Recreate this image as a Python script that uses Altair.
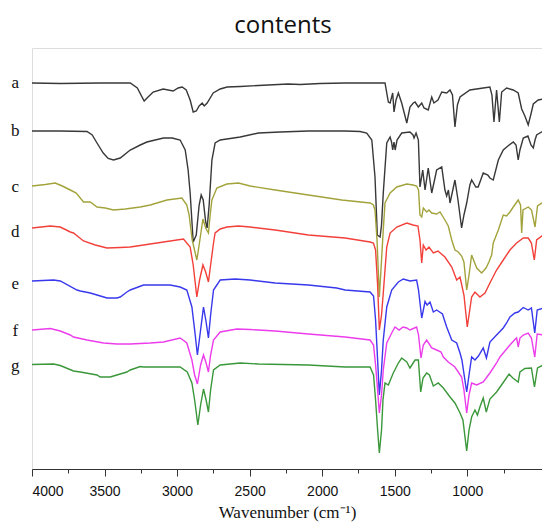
import altair as alt
import pandas as pd

# ---- series data: wavenumber (cm-1) and offset transmittance (a.u.) ----
A_WN = [4000, 3805, 3530, 3323, 3274, 3227, 3200, 3165, 3096, 3027, 2993, 2965, 2937, 2910, 2889, 2868,
        2848, 2827, 2813, 2793, 2751, 2703, 2655, 2565, 2440, 2235, 2150, 2015, 1842, 1670, 1567, 1544,
        1532, 1514, 1505, 1491, 1475, 1452, 1417, 1395, 1372, 1360, 1337, 1314, 1298, 1269, 1245, 1230,
        1202, 1176, 1142, 1119, 1102, 1085, 1068, 1050, 982, 890, 844, 830, 816, 798, 779, 763, 729,
        683, 649, 625, 603, 580, 561, 545, 511, 477, 458, 430]
A_T = [386, 385.5, 386, 386, 381, 368, 372, 377, 380, 378, 381, 382, 379, 369, 357, 358,
       363, 366, 363, 366, 376, 380, 382, 382.5, 383.5, 385, 384.5, 385.5, 386, 386, 386, 367,
       366, 376, 357, 369, 376, 366, 346, 362, 366, 367, 362, 366, 361, 359, 372, 366,
       369, 377, 376, 379, 374, 342, 364, 372, 379, 381, 382, 374, 347, 379, 347, 377, 381,
       379, 376, 360, 353, 344, 355, 365, 369, 370, 368, 366]

B_WN = [4000, 3805, 3621, 3585, 3552, 3509, 3475, 3438, 3392, 3323, 3254, 3208, 3094, 3034, 2979, 2944,
        2924, 2910, 2889, 2868, 2848, 2834, 2820, 2803, 2793, 2779, 2760, 2738, 2703, 2657, 2565, 2439,
        2290, 2095, 1842, 1739, 1693, 1658, 1636, 1620, 1601, 1591, 1579, 1555, 1532, 1522, 1514, 1505,
        1497, 1484, 1452, 1395, 1374, 1367, 1353, 1337, 1326, 1307, 1291, 1269, 1245, 1211, 1176, 1154,
        1142, 1130, 1119, 1085, 1064, 1039, 1023, 1004, 982, 970, 941, 925, 890, 858, 844, 821, 786,
        752, 720, 683, 664, 649, 637, 614, 582, 561, 545, 533, 522, 477, 430]
B_T = [338, 338, 337.5, 334, 326, 316, 310.5, 309, 311, 319, 324, 327, 331, 331, 329, 319,
       299, 276, 227, 234, 264, 274, 269, 247, 241, 264, 309, 326, 329, 330, 332, 336,
       337, 338, 338, 337.5, 336, 329, 292, 234, 232, 244, 276, 326, 332, 327, 319, 327,
       319, 329, 336, 337, 334, 331, 336, 329, 282, 299, 279, 301, 276, 299, 302, 279,
       273, 279, 266, 289, 269, 241, 254, 266, 284, 289, 282, 282, 296, 294, 291, 289, 309,
       319, 323, 327, 324, 309, 319, 331, 333, 324, 321, 329, 334, 338, 338]

C_WN = [4000, 3908, 3840, 3791, 3736, 3695, 3645, 3598, 3552, 3495, 3438, 3357, 3254, 3185, 3070, 2967,
        2933, 2917, 2896, 2864, 2848, 2822, 2803, 2784, 2772, 2760, 2726, 2657, 2577, 2497, 2324, 2095,
        1865, 1670, 1647, 1636, 1622, 1606, 1591, 1579, 1567, 1532, 1486, 1417, 1374, 1349, 1336, 1326,
        1314, 1303, 1280, 1264, 1245, 1211, 1188, 1154, 1131, 1107, 1085, 1062, 1039, 1023, 1004, 988,
        970, 935, 901, 871, 851, 832, 821, 786, 752, 729, 706, 683, 649, 633, 625, 616, 580, 557, 533,
        516, 477, 453, 430]
C_T = [283, 284.5, 286, 283, 279, 276, 267, 267, 262, 261, 259, 260, 262, 264, 269, 271,
       264, 254, 229, 209, 224, 250, 241, 236, 254, 269, 281, 285, 286, 283, 279, 274,
       269, 266, 264, 259, 229, 172, 209, 239, 266, 276, 282, 285, 284, 283, 279, 254,
       252, 261, 257, 259, 256, 255, 257, 249, 243, 229, 219, 217, 213, 207, 179, 194,
       214, 201, 196, 201, 207, 214, 226, 239, 254, 253, 257, 262, 269, 264, 236, 259, 262, 259, 242,
       263, 267, 273, 282]

D_WN = [4000, 3874, 3805, 3736, 3714, 3645, 3564, 3483, 3392, 3323, 3185, 3094, 2956, 2910, 2889, 2864,
        2845, 2822, 2803, 2784, 2769, 2749, 2738, 2703, 2657, 2577, 2497, 2324, 2095, 1842, 1670, 1647,
        1632, 1618, 1606, 1591, 1579, 1567, 1555, 1532, 1486, 1417, 1374, 1340, 1326, 1314, 1303, 1284,
        1264, 1234, 1202, 1154, 1107, 1073, 1050, 1023, 1000, 970, 947, 913, 878, 844, 798, 752, 706,
        660, 614, 580, 558, 538, 522, 477, 430]
D_T = [241, 243, 242, 237, 236, 228, 224, 221, 221.5, 222, 225, 227, 230, 222, 204, 172,
       189, 204, 197, 187, 204, 226, 236, 240, 242, 243, 242, 239, 234, 231, 227, 226,
       219, 184, 139, 154, 176, 199, 222, 236, 242, 246, 244, 243, 229, 206, 224, 219,
       222, 216, 218, 212, 202, 189, 192, 174, 142, 172, 177, 172, 176, 186, 199, 209, 219,
       226, 231, 231, 226, 209, 229, 234, 233]

E_WN = [4000, 3851, 3805, 3690, 3667, 3598, 3552, 3483, 3415, 3392, 3346, 3323, 3231, 3163, 3048, 2979,
        2933, 2898, 2879, 2860, 2838, 2818, 2800, 2784, 2769, 2749, 2703, 2600, 2497, 2324, 2095, 1900,
        1842, 1670, 1646, 1632, 1618, 1606, 1591, 1579, 1555, 1521, 1475, 1441, 1395, 1349, 1336, 1314,
        1291, 1277, 1257, 1234, 1211, 1171, 1142, 1107, 1073, 1050, 1037, 1004, 988, 970, 947, 923, 890,
        868, 844, 798, 752, 729, 706, 672, 649, 614, 580, 558, 535, 518, 477, 430]
E_T = [188, 189, 188, 179, 178, 176, 174, 171, 171, 172, 177, 179, 184, 184, 184, 182,
       179, 162, 139, 114, 139, 162, 147, 131, 154, 179, 189, 190, 189, 186, 184, 181,
       179, 177, 173, 149, 109, 74, 99, 129, 162, 179, 187, 190, 188, 189, 179, 151,
       167.5, 164, 167, 157, 159, 155, 142, 129, 126, 116, 109, 77, 94, 112, 109, 113, 121,
       111, 127, 134, 141, 146, 152, 156, 157, 161.5, 159, 161, 136, 159, 161, 161.5]

F_WN = [4000, 3874, 3805, 3736, 3714, 3621, 3507, 3415, 3323, 3185, 3094, 2979, 2933, 2898, 2879, 2860,
        2838, 2818, 2800, 2784, 2769, 2749, 2703, 2588, 2497, 2324, 2095, 1842, 1670, 1646, 1632, 1618,
        1606, 1591, 1579, 1555, 1521, 1498, 1470, 1443, 1417, 1395, 1349, 1336, 1319, 1303, 1280, 1245,
        1211, 1181, 1165, 1131, 1085, 1039, 1023, 1004, 988, 970, 935, 890, 844, 798, 775, 752, 706,
        675, 660, 649, 637, 614, 580, 558, 535, 518, 477, 455, 430]
F_T = [139, 140.5, 138, 134, 132, 129, 126, 125, 125, 126, 127, 131, 126, 109, 94, 85,
       104, 114, 106, 97, 114, 129, 137, 140, 139.5, 138, 135, 132, 129, 124, 104, 79,
       56, 74, 99, 126, 136, 142, 139, 142, 141, 139, 142, 134, 111, 124, 129, 121,
       119, 117, 112, 107, 102, 92, 79, 56, 74, 86, 84, 87, 96, 106, 112, 116, 124,
       129, 131, 122, 131, 134, 136, 131, 112, 135, 134, 129, 127]

G_WN = [4000, 3851, 3805, 3714, 3667, 3552, 3530, 3461, 3438, 3346, 3323, 3254, 3231, 3048, 2979, 2930,
        2898, 2879, 2857, 2838, 2818, 2800, 2784, 2769, 2749, 2703, 2565, 2439, 2095, 1842, 1670, 1646,
        1632, 1618, 1606, 1591, 1581, 1567, 1544, 1510, 1475, 1452, 1417, 1395, 1360, 1337, 1321, 1305,
        1280, 1261, 1234, 1200, 1165, 1119, 1085, 1050, 1030, 1004, 988, 970, 947, 930, 913, 890, 869,
        844, 798, 752, 712, 686, 649, 637, 603, 558, 537, 516, 477, 430]
G_T = [104.5, 105, 103.5, 98, 97, 94, 92, 92, 93, 97, 99, 102.5, 102, 102, 102, 97,
       86, 69, 44, 64, 80, 69, 57, 79, 99, 104, 106, 105, 104, 102, 102, 94,
       69, 39, 16, 39, 69, 86, 84, 96, 106, 111, 107, 101, 109, 109, 77, 91,
       96, 94, 83, 86, 81, 72, 66, 56, 49, 18, 39, 52, 59, 54, 62, 71, 57,
       70, 77, 86.5, 95, 91, 87, 97, 100.5, 101, 82, 101, 104, 103.5]

SERIES = ["a", "b", "c", "d", "e", "f", "g"]
COLORS = ["#383838", "#383838", "#a3a33c", "#f2403a", "#3838ec", "#ec3cec", "#3a973a"]
LABEL_Y = [386, 338, 282, 237, 185, 138, 103]
LABEL_WN = 4115

MAJOR_TICKS = [4000, 3500, 3000, 2500, 2000, 1500, 1000]
MINOR_TICKS = [3750, 3250, 2750, 2250, 1750, 1250, 750]
X_DOMAIN = [485, 4000]
Y_DOMAIN = [0, 421]

rows = []
for name, wn, t in zip(SERIES, [A_WN, B_WN, C_WN, D_WN, E_WN, F_WN, G_WN],
                       [A_T, B_T, C_T, D_T, E_T, F_T, G_T]):
    for i, (w, v) in enumerate(zip(wn, t)):
        rows.append({"series": name, "wn": w, "t": v, "i": i})
df = pd.DataFrame(rows)
labels_df = pd.DataFrame({"series": SERIES, "lx": [LABEL_WN] * len(SERIES), "ly": LABEL_Y})

xscale = alt.Scale(domain=X_DOMAIN, reverse=True, nice=False, zero=False)
yscale = alt.Scale(domain=Y_DOMAIN, nice=False, zero=False)
cscale = alt.Scale(domain=SERIES, range=COLORS)

major_axis = alt.Axis(values=MAJOR_TICKS, format="d", orient="bottom", grid=False,
                      labelFont="Liberation Sans", labelFontSize=14, labelColor="#111",
                      labelPadding=8, tickSize=7, tickColor="#333", tickWidth=1,
                      domainColor="#333", domainWidth=1,
                      title="Wavenumber (cm\u207b\u00b9)", titleFont="Liberation Serif",
                      titleFontSize=17, titleFontWeight="normal", titleColor="#111",
                      titlePadding=6)
minor_axis = alt.Axis(values=MINOR_TICKS, orient="bottom", grid=False, labels=False,
                      domain=False, tickSize=4, tickColor="#333", tickWidth=1, title=None)

lines = alt.Chart(df).mark_line(strokeWidth=1.4, clip=True).encode(
    x=alt.X("wn:Q", scale=xscale, axis=major_axis),
    y=alt.Y("t:Q", scale=yscale, axis=None),
    color=alt.Color("series:N", scale=cscale, legend=None),
    order=alt.Order("i:Q"),
)

texts = alt.Chart(labels_df).mark_text(font="Liberation Serif", fontSize=17, color="#111",
                                       align="center", baseline="middle").encode(
    x=alt.X("lx:Q", scale=xscale, axis=minor_axis),
    y=alt.Y("ly:Q", scale=yscale, axis=None),
    text="series:N",
)

chart = alt.layer(lines, texts).resolve_axis(x="independent").properties(
    width=510, height=421,
    autosize=alt.AutoSizeParams(type="none"),
    padding={"left": 24, "top": 40, "right": 0, "bottom": 55},
    title=alt.TitleParams("contents", font="Open Sans", fontSize=24, fontWeight="normal",
                          color="#111", anchor="middle", dx=-4, offset=10),
).configure_view(stroke=None).configure(background="white")

chart.save("out.html", embed_options={"renderer": "svg", "actions": False})
